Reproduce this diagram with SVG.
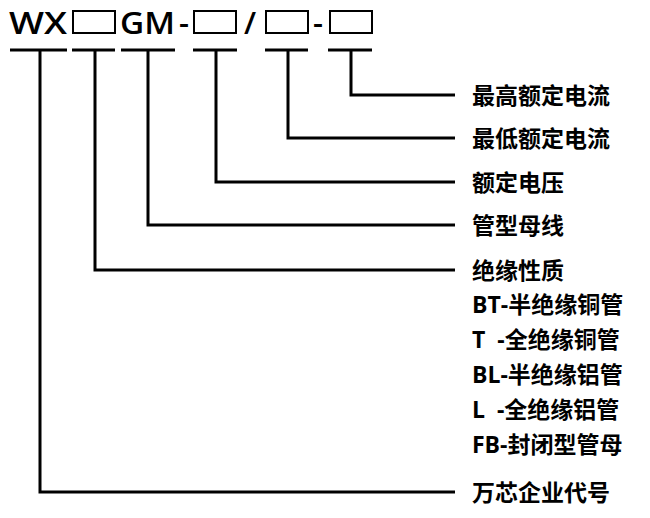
<svg xmlns="http://www.w3.org/2000/svg" width="650" height="518" viewBox="0 0 650 518">
<style>
.t{font-family:"Open Sans","Noto Sans CJK SC",sans-serif;font-weight:bold;fill:#000}
.h{font-size:31px;font-weight:600}
.l{font-size:23px}
.c{fill:none;stroke:#000;stroke-width:3}
.b{fill:none;stroke:#000;stroke-width:2}
</style>
<rect width="650" height="518" fill="#fff"/>
<g id="code">
<text class="t h" x="9" y="34" textLength="58" lengthAdjust="spacingAndGlyphs">WX</text>
<rect class="b" x="73" y="11" width="42" height="22"/>
<text class="t h" x="120" y="34" textLength="55" lengthAdjust="spacingAndGlyphs">GM</text>
<text class="t h" x="179" y="34">-</text>
<rect class="b" x="194" y="11" width="42" height="22"/>
<text class="t h" x="244" y="34">/</text>
<rect class="b" x="266" y="11" width="42" height="22"/>
<text class="t h" x="313" y="34">-</text>
<rect class="b" x="330" y="11" width="42" height="22"/>
</g>
<g id="connectors">
<path class="c" d="M10 50H67M72 50H115M121 50H175M193 50H237M265 50H308M328 50H372"/>
<path class="c" d="M351 50V95H455"/>
<path class="c" d="M288 50V138H455"/>
<path class="c" d="M216 50V182H455"/>
<path class="c" d="M148 50V225H455"/>
<path class="c" d="M95 50V270H455"/>
<path class="c" d="M40 50V492H455"/>
</g>
<g id="labels">
<text class="t l" x="472" y="104">最高额定电流</text>
<text class="t l" x="472" y="147">最低额定电流</text>
<text class="t l" x="472" y="191">额定电压</text>
<text class="t l" x="472" y="234">管型母线</text>
<text class="t l" x="472" y="279">绝缘性质</text>
<text class="t l" x="472" y="313">BT-半绝缘铜管</text>
<text class="t l" x="472" y="348" xml:space="preserve">T  -全绝缘铜管</text>
<text class="t l" x="472" y="383">BL-半绝缘铝管</text>
<text class="t l" x="472" y="418" xml:space="preserve">L  -全绝缘铝管</text>
<text class="t l" x="472" y="453">FB-封闭型管母</text>
<text class="t l" x="472" y="501">万芯企业代号</text>
</g>
</svg>
